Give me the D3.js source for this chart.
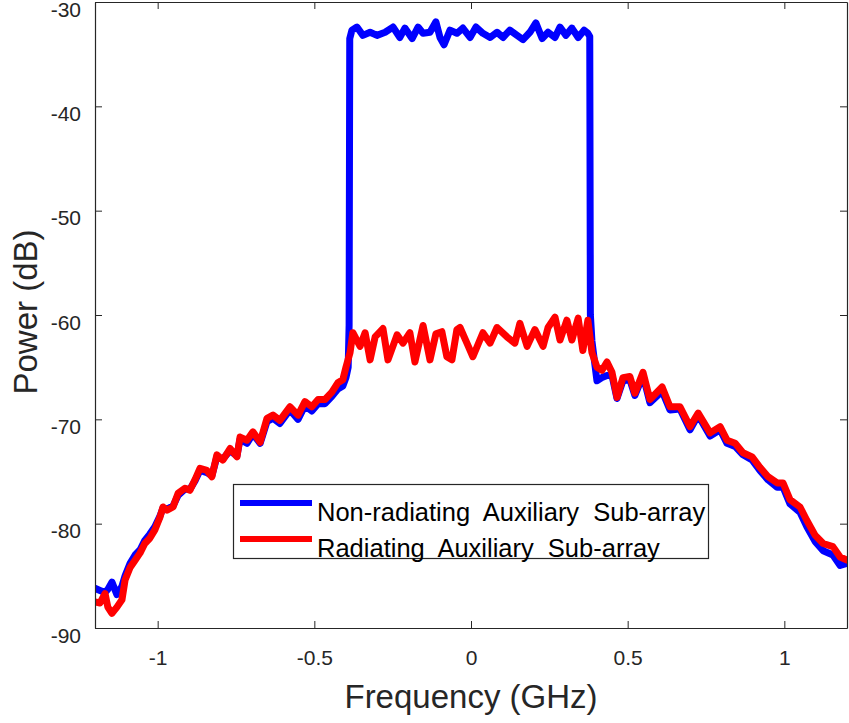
<!DOCTYPE html>
<html>
<head>
<meta charset="utf-8">
<script src="https://cdn.jsdelivr.net/npm/d3@7"></script>
<style>
  html, body { margin: 0; padding: 0; background: #fff; }
  svg { display: block; font-family: "Liberation Sans", Arial, sans-serif; }
</style>
</head>
<body>
<svg id="chart" width="849" height="723"></svg>
<script>
// ---- data ----
const xTicks = [-1, -0.5, 0, 0.5, 1];
const xTickLabels = ["-1", "-0.5", "0", "0.5", "1"];
const yTicks = [-90, -80, -70, -60, -50, -40, -30];
const yTickLabels = ["-90", "-80", "-70", "-60", "-50", "-40", "-30"];
const seriesNames = ["Non-radiating Auxiliary Sub-array", "Radiating Auxiliary Sub-array"];

// Radiating (red)
const redFreq = [-1.200,-1.184,-1.168,-1.159,-1.146,-1.130,-1.114,-1.104,-1.088,-1.072,-1.056,-1.041,-1.025,-1.009,-0.993,-0.983,-0.970,-0.951,-0.935,-0.913,-0.897,-0.881,-0.865,-0.843,-0.827,-0.811,-0.792,-0.769,-0.747,-0.737,-0.715,-0.696,-0.673,-0.651,-0.632,-0.610,-0.578,-0.552,-0.530,-0.508,-0.488,-0.466,-0.444,-0.425,-0.409,-0.399,-0.386,-0.377,-0.354,-0.338,-0.322,-0.306,-0.281,-0.265,-0.236,-0.217,-0.195,-0.179,-0.153,-0.131,-0.112,-0.093,-0.077,-0.061,-0.045,-0.035,-0.013,0.006,0.038,0.061,0.083,0.115,0.140,0.156,0.179,0.204,0.230,0.246,0.268,0.284,0.306,0.322,0.342,0.357,0.373,0.386,0.402,0.418,0.434,0.450,0.466,0.485,0.507,0.523,0.549,0.571,0.610,0.635,0.667,0.699,0.725,0.763,0.795,0.817,0.843,0.868,0.897,0.922,0.948,0.977,0.996,1.018,1.050,1.072,1.098,1.124,1.155,1.178,1.200];
const redPower = [-87.5,-87.6,-86.7,-88.0,-88.6,-88.0,-87.3,-85.4,-84.2,-83.5,-82.8,-81.9,-81.4,-80.6,-79.4,-78.4,-78.7,-78.4,-77.1,-76.6,-76.8,-75.8,-74.7,-74.9,-75.5,-73.4,-73.9,-72.8,-73.6,-71.7,-72.0,-71.2,-72.2,-69.9,-69.6,-70.1,-68.8,-69.6,-68.3,-68.8,-68.1,-68.1,-67.4,-66.5,-66.2,-65.0,-63.6,-61.7,-63.0,-61.7,-64.3,-62.1,-61.3,-64.3,-61.9,-62.7,-61.7,-64.5,-61.0,-64.3,-61.8,-61.6,-64.0,-64.3,-61.4,-61.2,-62.7,-64.0,-61.7,-62.7,-61.2,-62.1,-62.7,-60.8,-63.0,-61.4,-63.0,-61.2,-60.2,-62.4,-60.5,-62.4,-60.3,-63.4,-60.5,-63.6,-65.0,-65.3,-64.5,-65.5,-67.9,-66.0,-65.9,-67.5,-65.5,-68.1,-66.9,-68.8,-68.8,-70.7,-69.4,-71.3,-70.7,-72.0,-72.3,-73.2,-73.6,-74.6,-75.5,-76.1,-76.1,-77.7,-78.4,-79.7,-81.1,-81.9,-82.2,-83.2,-83.5];

// Non-radiating (blue)
const blueFreq = [-1.200,-1.184,-1.168,-1.159,-1.146,-1.130,-1.114,-1.104,-1.088,-1.072,-1.056,-1.041,-1.025,-1.009,-0.993,-0.983,-0.970,-0.951,-0.935,-0.913,-0.897,-0.881,-0.865,-0.843,-0.827,-0.811,-0.792,-0.769,-0.747,-0.737,-0.715,-0.696,-0.673,-0.651,-0.632,-0.610,-0.578,-0.552,-0.530,-0.508,-0.488,-0.466,-0.444,-0.425,-0.409,-0.399,-0.392,-0.389,-0.387,-0.380,-0.364,-0.345,-0.322,-0.300,-0.274,-0.249,-0.227,-0.211,-0.188,-0.169,-0.153,-0.131,-0.112,-0.099,-0.086,-0.067,-0.045,-0.026,-0.003,0.016,0.038,0.061,0.083,0.102,0.124,0.147,0.166,0.188,0.207,0.227,0.246,0.268,0.284,0.303,0.322,0.342,0.361,0.373,0.379,0.381,0.386,0.402,0.418,0.434,0.450,0.466,0.485,0.507,0.523,0.549,0.571,0.610,0.635,0.667,0.699,0.725,0.763,0.795,0.817,0.843,0.868,0.897,0.922,0.948,0.977,0.996,1.018,1.050,1.072,1.098,1.124,1.155,1.178,1.200];
const bluePower = [-86.2,-86.4,-86.6,-86.3,-85.6,-86.8,-86.0,-85.0,-83.8,-83.0,-82.5,-81.6,-81.0,-80.3,-79.3,-78.5,-78.6,-78.3,-77.3,-76.7,-76.7,-75.9,-74.9,-75.1,-75.4,-73.6,-73.8,-73.0,-73.5,-71.9,-72.3,-71.4,-72.3,-70.2,-69.9,-70.4,-69.1,-70.0,-68.7,-69.2,-68.5,-68.5,-67.8,-67.1,-66.8,-66.0,-65.0,-61.0,-33.5,-32.7,-32.4,-33.2,-32.9,-33.2,-32.9,-32.4,-33.4,-32.5,-33.5,-32.4,-33.0,-32.9,-31.9,-33.4,-34.1,-32.7,-33.0,-32.5,-33.4,-32.4,-33.0,-33.4,-32.9,-33.4,-32.7,-33.2,-33.6,-32.9,-32.0,-33.5,-32.9,-33.4,-32.4,-33.2,-32.5,-33.4,-32.7,-33.0,-33.3,-60.0,-62.5,-66.3,-66.0,-65.8,-65.8,-68.0,-66.3,-66.2,-67.7,-65.8,-68.4,-67.3,-69.1,-69.0,-71.0,-69.6,-71.6,-71.0,-72.3,-72.6,-73.4,-73.9,-74.9,-75.8,-76.5,-76.5,-78.1,-78.9,-80.3,-81.7,-82.6,-83.0,-84.0,-83.8];

// ---- layout ----
const svg = d3.select("#chart");
const plot = { left: 95, top: 2, right: 847, bottom: 628 };
const axisColor = "#262626";

const x = d3.scaleLinear().domain([-1.2, 1.2]).range([plot.left, plot.right]);
const y = d3.scaleLinear().domain([-90, -30]).range([plot.bottom, plot.top]);

const clipId = "plotclip";
svg.append("defs").append("clipPath").attr("id", clipId)
  .append("rect").attr("x", plot.left).attr("y", plot.top)
  .attr("width", plot.right - plot.left).attr("height", plot.bottom - plot.top);

const line = d3.line().x(d => x(d[0])).y(d => y(d[1]));
const blueData = blueFreq.map((f, i) => [f, bluePower[i]]);
const redData = redFreq.map((f, i) => [f, redPower[i]]);

const g = svg.append("g").attr("clip-path", `url(#${clipId})`);
g.append("path").datum(blueData).attr("d", line)
  .attr("fill", "none").attr("stroke", "#0000ff").attr("stroke-width", 7)
  .attr("stroke-linejoin", "round").attr("stroke-linecap", "round");
g.append("path").datum(redData).attr("d", line)
  .attr("fill", "none").attr("stroke", "#ff0000").attr("stroke-width", 7)
  .attr("stroke-linejoin", "round").attr("stroke-linecap", "round");

// ---- axes ----
const tickFont = "21px";
const bottomAxis = d3.axisBottom(x).tickValues(xTicks)
  .tickFormat((d, i) => xTickLabels[i]).tickSizeInner(-7).tickSizeOuter(0).tickPadding(22);
const topAxis = d3.axisTop(x).tickValues(xTicks).tickFormat("").tickSizeInner(-7).tickSizeOuter(0);
const leftAxis = d3.axisLeft(y).tickValues(yTicks)
  .tickFormat((d, i) => yTickLabels[i]).tickSizeInner(-7).tickSizeOuter(0).tickPadding(14);
const rightAxis = d3.axisRight(y).tickValues(yTicks).tickFormat("").tickSizeInner(-7).tickSizeOuter(0);

function styleAxis(sel) {
  sel.selectAll("path.domain").attr("stroke", axisColor).attr("stroke-width", 1.2);
  sel.selectAll(".tick line").attr("stroke", axisColor).attr("stroke-width", 1);
  sel.selectAll(".tick text").attr("fill", axisColor).style("font-size", tickFont)
    .style("font-family", "'Liberation Sans', Arial, sans-serif");
}
svg.append("g").attr("transform", `translate(0,${plot.bottom})`).call(bottomAxis).call(styleAxis);
svg.append("g").attr("transform", `translate(0,${plot.top})`).call(topAxis).call(styleAxis);
const gl = svg.append("g").attr("transform", `translate(${plot.left},0)`).call(leftAxis).call(styleAxis);
gl.selectAll(".tick text").attr("dy", "0.68em");
svg.append("g").attr("transform", `translate(${plot.right},0)`).call(rightAxis).call(styleAxis);

// axis titles
svg.append("text").attr("x", 471).attr("y", 708)
  .attr("text-anchor", "middle").attr("fill", axisColor)
  .style("font-size", "33px").text("Frequency (GHz)");
svg.append("text").attr("transform", `translate(37,312) rotate(-90)`)
  .attr("text-anchor", "middle").attr("fill", axisColor)
  .style("font-size", "33px").text("Power (dB)");

// ---- legend ----
const leg = svg.append("g");
leg.append("rect").attr("x", 233.5).attr("y", 484.5).attr("width", 475).attr("height", 74)
  .attr("fill", "#fff").attr("stroke", axisColor).attr("stroke-width", 1.2);
const legColors = ["#0000ff", "#ff0000"];
const legY = [503, 539];
seriesNames.forEach((name, i) => {
  leg.append("line").attr("x1", 240).attr("x2", 312).attr("y1", legY[i]).attr("y2", legY[i])
    .attr("stroke", legColors[i]).attr("stroke-width", 6);
  leg.append("text").attr("x", 317).attr("y", legY[i] + 18)
    .attr("fill", "#000").style("font-size", "25.5px").style("word-spacing", "7px").text(name);
});
</script>
</body>
</html>
